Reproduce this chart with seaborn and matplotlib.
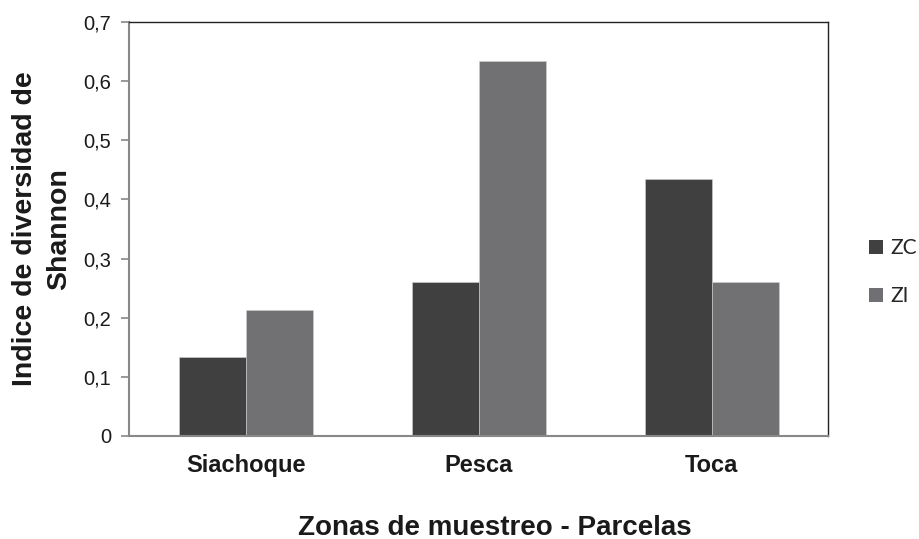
import matplotlib
matplotlib.use("Agg")
import matplotlib.pyplot as plt
import seaborn as sns
import pandas as pd
from matplotlib.patches import Patch

categories = ["Siachoque", "Pesca", "Toca"]
series = ["ZC", "ZI"]
zc_values = [0.134, 0.260, 0.435]
zi_values = [0.213, 0.634, 0.261]
yticks = [0, 0.1, 0.2, 0.3, 0.4, 0.5, 0.6, 0.7]
ytick_labels = ["0", "0,1", "0,2", "0,3", "0,4", "0,5", "0,6", "0,7"]
colors = {"ZC": "#404040", "ZI": "#707074"}

df = pd.DataFrame({
    "zona": categories * 2,
    "serie": ["ZC"] * 3 + ["ZI"] * 3,
    "valor": zc_values + zi_values,
})

sns.set_style("white")
plt.rcParams["font.family"] = ["Liberation Sans", "DejaVu Sans"]

fig = plt.figure(figsize=(9.19, 5.39), dpi=100)
ax = fig.add_axes([0.1404, 0.1911, 0.7606, 0.7681])

sns.barplot(data=df, x="zona", y="valor", hue="serie", order=categories,
            hue_order=series, palette=colors, width=0.575, ax=ax,
            edgecolor="#d0d0d0", linewidth=0.4, legend=False)

ax.set_ylim(0, 0.7)
ax.set_xlim(-0.5, 2.5)
ax.set_yticks(yticks)
ax.set_yticklabels(ytick_labels, fontsize=14.5, color="#1a1a1a")
ax.tick_params(axis="y", length=6, width=1.2, color="#888888", pad=7, direction="out", left=True)
ax.tick_params(axis="x", length=0, pad=13)
for lbl in ax.get_xticklabels():
    lbl.set_fontsize(17)
    lbl.set_fontweight("bold")
    lbl.set_color("#1a1a1a")

for side in ["left", "bottom"]:
    ax.spines[side].set_color("#888888")
    ax.spines[side].set_linewidth(1.5)
for side in ["top", "right"]:
    ax.spines[side].set_color("#222222")
    ax.spines[side].set_linewidth(1.0)
    ax.spines[side].set_visible(True)

ax.set_xlabel("Zonas de muestreo - Parcelas", fontsize=20, fontweight="bold",
              color="#1a1a1a")
ax.xaxis.set_label_coords(0.524, -0.19)
ax.set_ylabel("Indice de diversidad de\nShannon", fontsize=20.5, fontweight="bold",
              color="#1a1a1a", labelpad=8, linespacing=1.4)

handles = [Patch(facecolor=colors[s], edgecolor="none", label=s) for s in series]
leg = fig.legend(handles=handles, loc="center left", bbox_to_anchor=(0.925, 0.495),
                 frameon=False, prop={"family": "Lato", "size": 15},
                 handlelength=0.7, handleheight=0.7, handletextpad=0.35, labelspacing=1.35)

fig.savefig("out.png", dpi=100)
